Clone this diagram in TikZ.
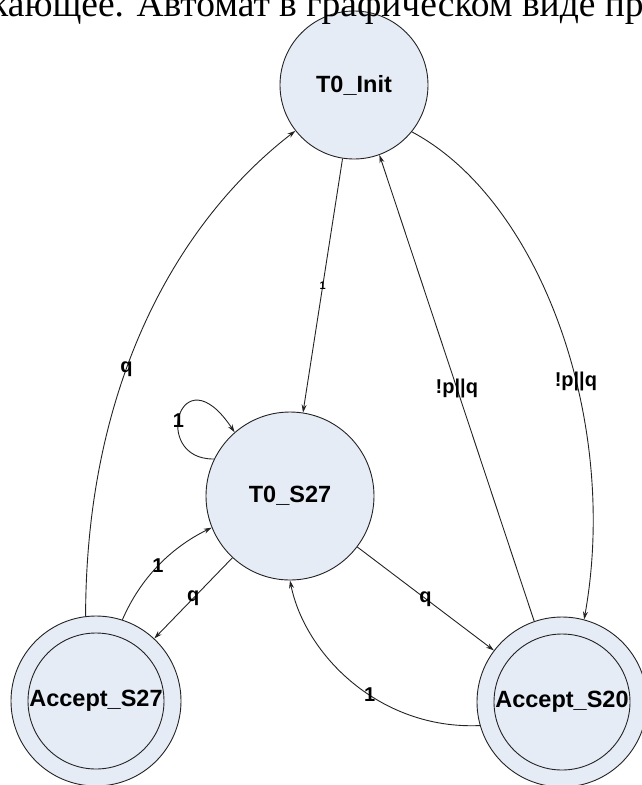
\documentclass[tikz,border=0pt]{standalone}
\usepackage{fontspec}
\usetikzlibrary{arrows.meta}
\setmainfont{Liberation Serif}
\newfontfamily\diagfont{Liberation Sans}
\definecolor{statefill}{RGB}{230,236,246}
\definecolor{edgegray}{RGB}{35,35,35}

\begin{document}
\begin{tikzpicture}[x=1pt, y=-1pt,
    state/.style={circle, draw=edgegray, fill=statefill, line width=0.9pt, inner sep=0pt,
        font=\diagfont\bfseries\fontsize{23.5}{24}\selectfont},
    accept/.style={state, minimum size=170pt,
        path picture={\draw[edgegray, line width=0.9pt] (path picture bounding box.center) circle (68pt);}},
    edge/.style={-{Stealth[length=8pt, width=5pt]}, draw=edgegray, line width=0.9pt},
    lbl/.style={font=\diagfont\bfseries\fontsize{20}{20}\selectfont, inner sep=1pt}]
    \clip (0,0) rectangle (642,785);

    % 状態
    \node[state, minimum size=148pt] (init) at (354,85) {T0\_Init};
    \node[state, minimum size=168pt] (s27) at (290,496) {T0\_S27};
    \node[accept] (acc27) at (96,701) {Accept\_S27};
    \node[accept] (acc20) at (562,702) {Accept\_S20};

    % 遷移
    \draw[edge] (init) -- node[lbl, font=\diagfont\bfseries\fontsize{11}{11}\selectfont] {1} (s27);
    \draw[edge] (acc27.97) .. controls (86,380) and (180,220) .. node[lbl, pos=0.4] {q} (init.218);
    \draw[edge] (s27.154) .. controls (150,460) and (180,350) .. node[lbl, pos=0.45] {1} (s27.131);
    \draw[edge] (acc27.72) .. controls (140,579) and (170,548) .. node[lbl] {1} (s27.202);
    \draw[edge] (s27.227) -- node[lbl] {q} (acc27.47);
    \draw[edge] (s27) -- node[lbl] {q} (acc20);
    \draw[edge] (acc20.196) .. controls (380,730) and (305,655) .. node[lbl, pos=0.42] {1} (s27.270);
    \draw[edge] (acc20.109) -- node[lbl] {!p||q} (init.290);
    \draw[edge] (init.321) .. controls (540,200) and (620,420) .. node[lbl, pos=0.6] {!p||q} (acc20.75);

    % 上端で切れた本文の行
    \node[anchor=base west, inner sep=0pt, font=\fontsize{37.5}{38}\selectfont] (caption) at (-10,16)
        {кающее. Автомат в графическом виде пр};
\end{tikzpicture}
\end{document}
